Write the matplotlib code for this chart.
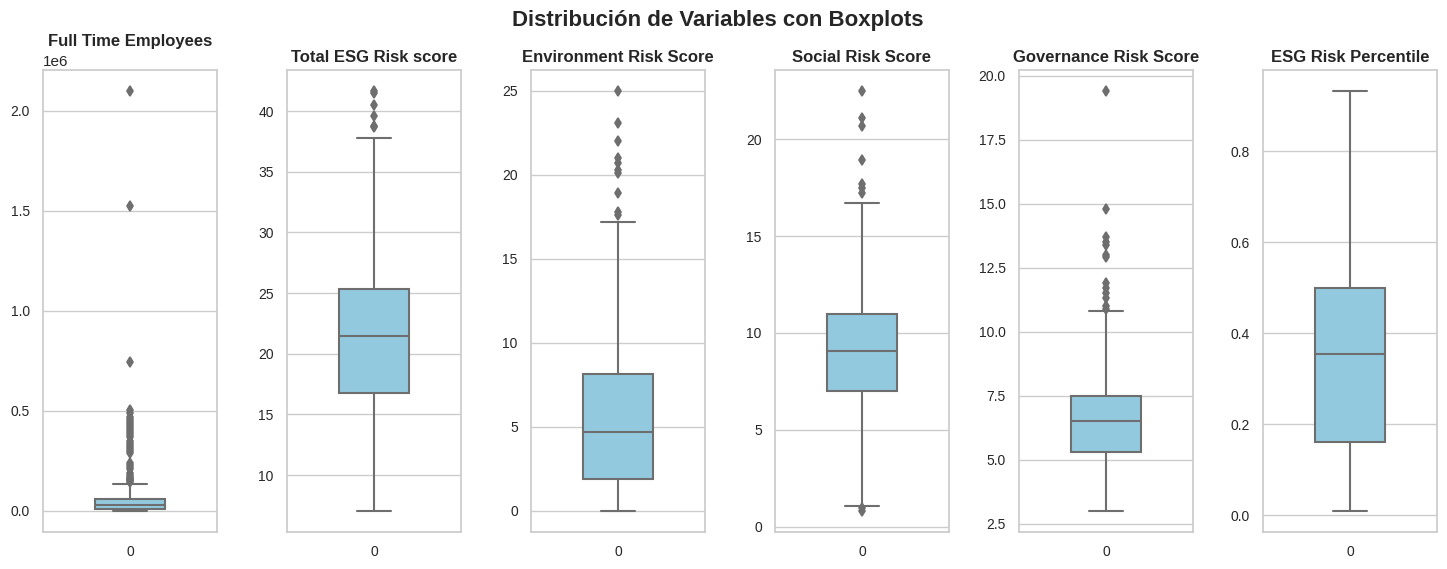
import matplotlib
matplotlib.use("Agg")
import matplotlib.pyplot as plt
import seaborn as sns

sns.set_theme(style="whitegrid")
plt.rcParams["font.family"] = ["Liberation Sans", "DejaVu Sans"]

titulos = [
    "Full Time Employees",
    "Total ESG Risk score",
    "Environment Risk Score",
    "Social Risk Score",
    "Governance Risk Score",
    "ESG Risk Percentile",
]

# whislo, q1, med, q3, whishi
empleados = [0, 11000, 28000, 62000, 137000]
total_esg = [7.05, 16.8, 21.5, 25.3, 37.75]
ambiental = [0.0, 1.9, 4.7, 8.15, 17.2]
social = [1.1, 7.0, 9.05, 11.0, 16.7]
gobernanza = [3.0, 5.3, 6.5, 7.5, 10.8]
percentil = [0.009, 0.16, 0.355, 0.5, 0.932]

# outliers
out_empleados = [2100000, 1525000, 745000, 503000, 490000, 470000, 460000, 450000, 440000,
                 430000, 420000, 410000, 400000, 390000, 380000, 370000, 350000, 340000,
                 330000, 320000, 310000, 300000, 290000, 240000, 230000, 220000, 210000,
                 190000, 180000, 170000, 165000, 160000, 155000, 150000, 145000]
out_total = [41.65, 41.5, 40.5, 39.6, 38.8, 38.7]
out_ambiental = [25, 23.1, 22, 21, 20.7, 20.3, 20.1, 18.9, 17.8, 17.6]
out_social = [22.48, 21.1, 20.7, 18.9, 17.7, 17.5, 17.2, 0.95, 0.82]
out_gobernanza = [19.4, 14.8, 13.7, 13.5, 13.4, 13.0, 12.9, 11.9, 11.7, 11.5, 11.3, 11.0, 10.9]
out_percentil = []

resumenes = [empleados, total_esg, ambiental, social, gobernanza, percentil]
outliers = [out_empleados, out_total, out_ambiental, out_social, out_gobernanza, out_percentil]

gris = "#6e6e6e"
lw = 1.5

fig, axes = plt.subplots(1, 6, figsize=(14.47, 5.69), dpi=100)
fig.subplots_adjust(left=43 / 1447, right=1437 / 1447, top=1 - 70 / 569, bottom=1 - 532 / 569, wspace=70 / 174)

for ax, titulo, res, fl in zip(axes, titulos, resumenes, outliers):
    stats = [{
        "whislo": res[0], "q1": res[1], "med": res[2], "q3": res[3], "whishi": res[4],
        "fliers": fl,
    }]
    ax.bxp(
        stats,
        positions=[0],
        widths=0.4,
        capwidths=0.2,
        patch_artist=True,
        boxprops={"facecolor": "#93c9df", "edgecolor": gris, "linewidth": lw},
        medianprops={"color": gris, "linewidth": lw},
        whiskerprops={"color": gris, "linewidth": lw},
        capprops={"color": gris, "linewidth": lw},
        flierprops={"marker": "d", "markerfacecolor": gris, "markeredgecolor": gris,
                    "markersize": 5.5, "markeredgewidth": 1.2},
    )
    ax.set_xlim(-0.5, 0.5)
    ax.set_xticks([0])
    ax.set_xticklabels(["0"])
    ax.tick_params(labelsize=10)
    ax.grid(False, axis="x")
    ax.yaxis.get_offset_text().set_fontsize(11)
    ax.set_title(titulo, fontsize=12, fontweight="bold", pad=6)

fig.suptitle("Distribución de Variables con Boxplots", fontsize=16, fontweight="bold", x=0.496, y=0.983)

fig.savefig("out.png", dpi=100)
